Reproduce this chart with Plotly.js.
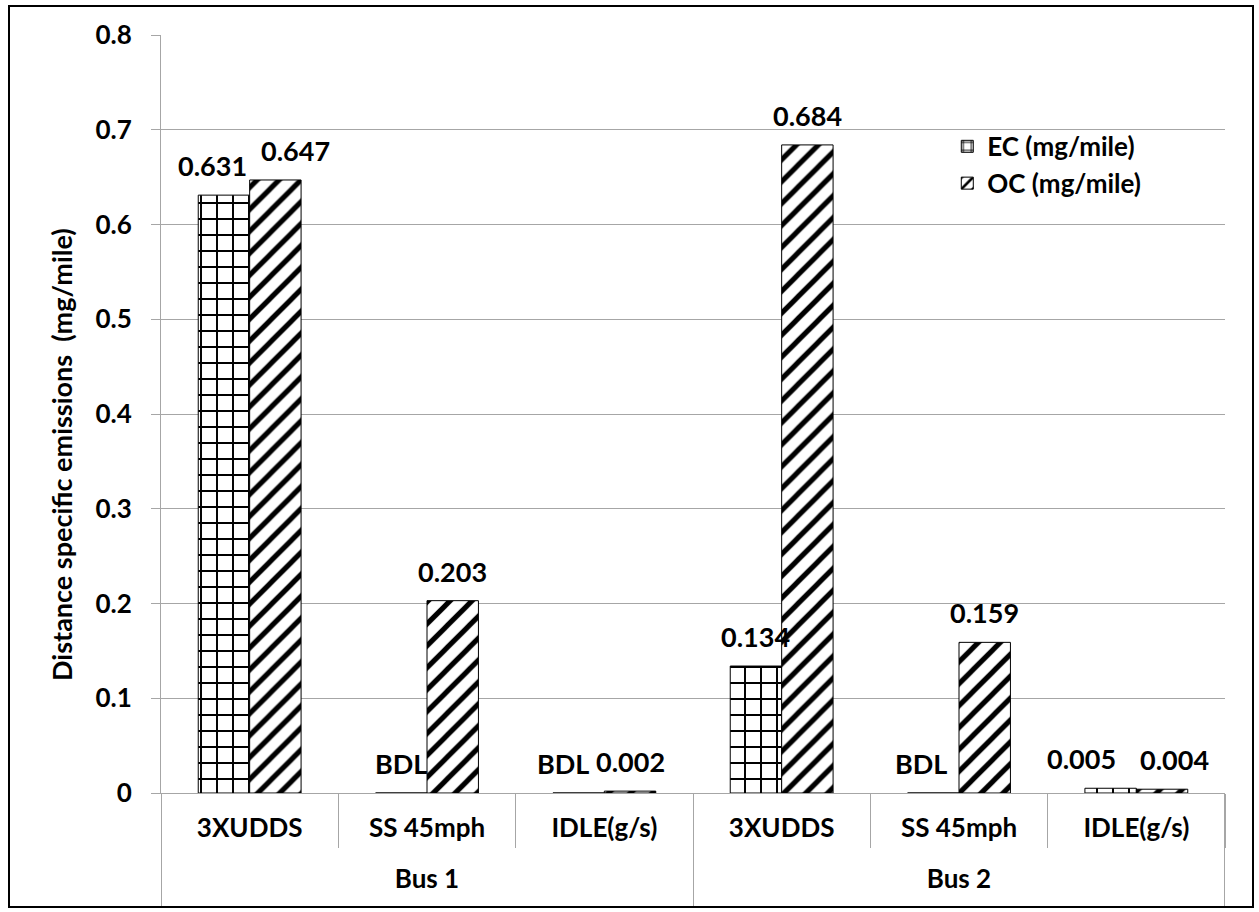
<!DOCTYPE html>
<html>
<head>
<meta charset="utf-8">
<script src="https://cdn.plot.ly/plotly-3.0.1.min.js"></script>
<style>
html,body{margin:0;padding:0;background:#fff;}
#chart{width:1259px;height:912px;}
#frame{position:absolute;left:8px;top:5px;width:1242px;height:899px;border:2px solid #000;pointer-events:none;}
</style>
</head>
<body>
<div id="chart"></div>
<div id="frame"></div>
<script>
const groups = ["Bus 1", "Bus 1", "Bus 1", "Bus 2", "Bus 2", "Bus 2"];
const categories = ["3XUDDS", "SS 45mph", "IDLE(g/s)", "3XUDDS", "SS 45mph", "IDLE(g/s)"];
const ecValues = [0.631, 0, 0, 0.134, 0, 0.005];
const ecLabels = ["0.631", "BDL", "BDL", "0.134", "BDL", "0.005"];
const ocValues = [0.647, 0.203, 0.002, 0.684, 0.159, 0.004];
const ocLabels = ["0.647", "0.203", "0.002", "0.684", "0.159", "0.004"];
const seriesNames = ["EC (mg/mile)", "OC (mg/mile)"];
const yTitle = "Distance specific emissions  (mg/mile)";

// label nudges in pixels (style only, as in the original chart)
const ecNudge = [-11, 0, -16, 0, -12, -29];
const ocNudge = [20, 0, 0, 0, 0, 12];

// unique category keys so repeated sub-category names stay separate
const keys = categories.map((c, i) => groups[i] + " | " + c);
const groupNames = [];
const groupStart = [];
groups.forEach((g, i) => { if (i === 0 || groups[i - 1] !== g) { groupNames.push(g); groupStart.push(i); } });
const groupEnds = groupStart.slice(1).concat([groups.length]);
const EPS = 0.002; // keep the outer edges just inside the axis range so they are drawn
const boundaries = [-0.5 + EPS].concat(groupEnds.map((e, k) => e - 0.5 - (k === groupEnds.length - 1 ? EPS : 0)));
const centres = groupStart.map((s, k) => (s + groupEnds[k] - 1) / 2);

const FONT = "Lato, 'Noto Sans', sans-serif";
const bold = (size) => ({family: FONT, size: size, color: "#000", weight: 700});
const GRID = "#a6a6a6";
const BARGAP = 0.42;
const barOffset = (1 - BARGAP) / 4;

const traces = [
  {
    type: "bar", name: seriesNames[0], x: keys, y: ecValues, hoverinfo: "skip",
    marker: {color: "#fff", line: {color: "#000", width: 1},
      pattern: {shape: "+", fgcolor: "#000", bgcolor: "#fff", size: 16, solidity: 0.23}}
  },
  {
    type: "bar", name: seriesNames[1], x: keys, y: ocValues, hoverinfo: "skip",
    marker: {color: "#fff", line: {color: "#000", width: 1},
      pattern: {shape: "/", fgcolor: "#000", bgcolor: "#fff", size: 15.5, solidity: 0.33}}
  },
  {
    // carrier for the group-level axis (no visible marks)
    type: "scatter", mode: "markers", x: centres, y: centres.map(() => 0),
    xaxis: "x2", yaxis: "y", marker: {opacity: 0, size: 1}, showlegend: false, hoverinfo: "skip"
  }
];

const annotations = [];
ecLabels.forEach((t, i) => annotations.push({
  xref: "x", yref: "y", x: i - barOffset, y: ecValues[i], text: t, showarrow: false,
  xanchor: "center", yanchor: "bottom", yshift: 11, xshift: ecNudge[i], font: bold(27)
}));
ocLabels.forEach((t, i) => annotations.push({
  xref: "x", yref: "y", x: i + barOffset, y: ocValues[i], text: t, showarrow: false,
  xanchor: "center", yanchor: "bottom", yshift: 11, xshift: ocNudge[i], font: bold(27)
}));
annotations.push({
  xref: "paper", yref: "paper", x: 0, y: 0.446, xshift: -99, text: yTitle, textangle: -90,
  showarrow: false, xanchor: "center", yanchor: "middle", font: bold(27)
});

const layout = {
  width: 1259, height: 912,
  margin: {l: 161, r: 34, t: 35, b: 119},
  paper_bgcolor: "#fff", plot_bgcolor: "#fff",
  barmode: "group", bargap: BARGAP, bargroupgap: 0,
  showlegend: true,
  legend: {x: 0.739, y: 0.884, xanchor: "left", yanchor: "top", bgcolor: "rgba(0,0,0,0)",
    font: bold(26), itemwidth: 30, tracegroupgap: 0},
  font: bold(26),
  annotations: annotations,
  xaxis: {
    type: "category", categoryorder: "array", categoryarray: keys,
    range: [-0.5, groups.length - 0.5],
    tickmode: "array", tickvals: keys, ticktext: categories,
    showgrid: false, showline: true, linecolor: GRID, linewidth: 1, zeroline: false,
    ticks: "outside", tickson: "boundaries", ticklen: 54, tickcolor: GRID, tickwidth: 1,
    ticklabelstandoff: 12,
    tickfont: bold(26)
  },
  xaxis2: {
    overlaying: "x", anchor: "y", side: "bottom", type: "linear",
    range: [-0.5, groups.length - 0.5],
    tickmode: "array", tickvals: centres, ticktext: groupNames,
    ticks: "", ticklabelstandoff: 68, tickfont: bold(26),
    minor: {tickmode: "array", tickvals: boundaries, ticks: "outside", ticklen: 113,
      tickcolor: GRID, tickwidth: 1, showgrid: false},
    showgrid: false, showline: false, zeroline: false
  },
  yaxis: {
    range: [0, 0.8], dtick: 0.1, tick0: 0, showgrid: true, gridcolor: GRID, gridwidth: 1,
    showline: true, linecolor: GRID, linewidth: 1, zeroline: false,
    ticks: "outside", ticklen: 9, tickcolor: GRID, ticklabelstandoff: 14,
    tickfont: bold(26)
  }
};

Plotly.newPlot("chart", traces, layout, {displayModeBar: false, staticPlot: true});
</script>
</body>
</html>
